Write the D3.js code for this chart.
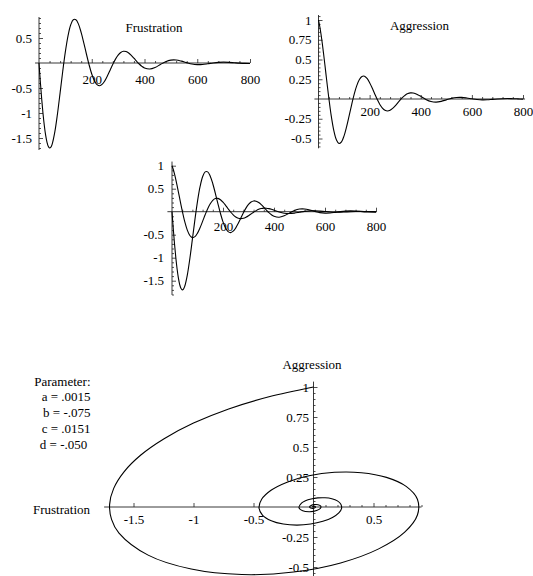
<!DOCTYPE html>
<meta charset="utf-8">
<style>
body { margin: 0; background: #fff; }
svg { display: block; }
text { font-family: "Liberation Serif", "Times New Roman", serif; font-size: 13px; fill: #000; }
</style>
<script src="https://d3js.org/d3.v7.min.js"></script>
<svg width="533" height="576"></svg>
<script>
// time grid and the two series
var times = [0,5,10,15,20,25,30,35,40,45,50,60,70,80,90,100,110,120,130,140,150,160,170,180,190,
  200,210,220,230,240,250,260,270,280,290,300,310,320,330,340,350,360,370,380,390,
  400,420,440,460,480,500,520,540,560,580,600,620,640,660,680,700,720,740,760,780,800];

var frustration = [0,-0.371,-0.707,-1.000,-1.245,-1.439,-1.579,-1.665,-1.699,-1.683,-1.621,-1.378,-1.019,-0.597,-0.166,
  0.226,0.543,0.760,0.866,0.866,0.772,0.608,0.399,0.175,-0.038,
  -0.220,-0.354,-0.432,-0.454,-0.424,-0.352,-0.252,-0.138,-0.024,0.078,
  0.158,0.211,0.234,0.228,0.199,0.153,0.096,0.036,-0.020,-0.067,
  -0.100,-0.121,-0.090,-0.031,0.026,0.058,0.060,0.038,0.007,-0.020,
  -0.032,-0.029,-0.015,0.001,0.013,0.017,0.013,0.005,-0.003,-0.008,-0.009];

var aggression = [1,0.918,0.817,0.699,0.569,0.433,0.293,0.155,0.022,-0.103,-0.217,-0.401,-0.517,-0.563,-0.542,
  -0.466,-0.349,-0.210,-0.067,0.065,0.172,0.247,0.286,0.289,0.260,
  0.207,0.139,0.064,-0.007,-0.069,-0.114,-0.142,-0.151,-0.142,-0.119,
  -0.087,-0.049,-0.011,0.023,0.051,0.069,0.077,0.076,0.067,0.052,
  0.033,-0.005,-0.032,-0.040,-0.030,-0.011,0.008,0.019,0.020,0.013,
  0.003,-0.006,-0.011,-0.010,-0.005,0.000,0.004,0.006,0.004,0.002,-0.001];

var timeTicks = [200,400,600,800];
var frustTicks = [-1.5,-1,-0.5,0.5];
var aggrTicks = [-0.5,-0.25,0.25,0.5,0.75,1];
var bothTicks = [-1.5,-1,-0.5,0.5,1];
var phaseFrustTicks = [-1.5,-1,-0.5,0.5];
var phaseAggrTicks = [-0.5,-0.25,0.25,0.5,0.75,1];
var paramLines = ["Parameter:", "a = .0015", "b = -.075", "c = .0151", "d = -.050\u00a0"];

var svg = d3.select("svg");
var curve = d3.curveCatmullRom.alpha(0.5);

function minors(lo, hi, step, majors) {
  return d3.range(Math.ceil(lo / step - 1e-9), Math.floor(hi / step + 1e-9) + 1)
    .map(function(i) { return +(i * step).toFixed(4); })
    .filter(function(v) { return v !== 0 && majors.indexOf(v) < 0; });
}

function styleAxis(g) {
  g.attr("font-family", null).attr("font-size", null);
  g.select(".domain").remove();
  g.selectAll("line").attr("stroke", "#222").attr("stroke-width", 0.8);
}

// x,y: scales; xr,yr: extent of the axis lines in data units
function axes(g, x, y, o) {
  g.append("line")
      .attr("x1", x(o.xr[0])).attr("x2", x(o.xr[1]))
      .attr("y1", y(0)).attr("y2", y(0))
      .attr("stroke", "#222").attr("stroke-width", 0.9);
  g.append("line")
      .attr("x1", x(0)).attr("x2", x(0))
      .attr("y1", y(o.yr[0])).attr("y2", y(o.yr[1]))
      .attr("stroke", "#222").attr("stroke-width", 0.9);

  g.append("g")
      .attr("transform", "translate(0," + y(0) + ")")
      .call(d3.axisBottom(x).tickValues(o.xTicks).tickSize(-4).tickPadding(o.xPad)
        .tickFormat(function(d) { return String(d); }))
      .call(styleAxis);
  g.append("g")
      .attr("transform", "translate(0," + y(0) + ")")
      .call(d3.axisBottom(x).tickValues(minors(0, o.xr[1], o.xMinor, o.xTicks)).tickSize(-2).tickFormat(""))
      .call(styleAxis);

  g.append("g")
      .attr("transform", "translate(" + x(0) + ",0)")
      .call(d3.axisLeft(y).tickValues(o.yTicks).tickSize(-4).tickPadding(o.yPad)
        .tickFormat(function(d) { return String(d); }))
      .call(styleAxis);
  g.append("g")
      .attr("transform", "translate(" + x(0) + ",0)")
      .call(d3.axisLeft(y).tickValues(minors(o.yr[1], o.yr[0], o.yMinor, o.yTicks)).tickSize(-2).tickFormat(""))
      .call(styleAxis);
}

function timePanel(o) {
  var g = svg.append("g");
  var x = d3.scaleLinear().domain([0, 800]).range(o.xRange);
  var y = d3.scaleLinear().domain([0, 1]).range([o.y0, o.y0 - o.k]);
  axes(g, x, y, o);
  o.series.forEach(function(s) {
    g.append("path")
        .datum(times.map(function(t, i) { return [t, s[i]]; }))
        .attr("fill", "none")
        .attr("stroke", "#000")
        .attr("stroke-width", 1.1)
        .attr("d", d3.line().x(function(d) { return x(d[0]); }).y(function(d) { return y(d[1]); }).curve(curve));
  });
  if (o.title) {
    g.append("text").attr("x", o.title[1]).attr("y", o.title[2])
        .attr("text-anchor", "middle").text(o.title[0]);
  }
}

timePanel({
  xRange: [39, 250], y0: 63, k: 50,
  xr: [-15, 800], yr: [0.92, -1.74],
  xTicks: timeTicks, yTicks: frustTicks, xMinor: 40, yMinor: 0.1,
  xPad: 12, yPad: 7,
  series: [frustration], title: ["Frustration", 154, 32]
});

timePanel({
  xRange: [318.5, 523], y0: 99, k: 79,
  xr: [-16, 808], yr: [1.063, -0.624],
  xTicks: timeTicks, yTicks: aggrTicks, xMinor: 40, yMinor: 0.05,
  xPad: 7.5, yPad: 7,
  series: [aggression], title: ["Aggression", 419.5, 30]
});

timePanel({
  xRange: [172, 376], y0: 211.7, k: 46,
  xr: [-18, 804], yr: [1.09, -1.81],
  xTicks: timeTicks, yTicks: bothTicks, xMinor: 40, yMinor: 0.1,
  xPad: 10, yPad: 8,
  series: [frustration, aggression]
});

// phase plot: Frustration (x) against Aggression (y)
(function() {
  var g = svg.append("g");
  var x = d3.scaleLinear().domain([0, 1]).range([313.5, 433.5]);
  var y = d3.scaleLinear().domain([0, 1]).range([507, 387]);
  axes(g, x, y, {
    xr: [-1.745, 0.9], yr: [1.045, -0.62],
    xTicks: phaseFrustTicks, yTicks: phaseAggrTicks, xMinor: 0.1, yMinor: 0.05,
    xPad: 7.5, yPad: 4.5
  });
  g.append("path")
      .datum(times.map(function(t, i) { return [frustration[i], aggression[i]]; }))
      .attr("fill", "none")
      .attr("stroke", "#000")
      .attr("stroke-width", 1.1)
      .attr("d", d3.line().x(function(d) { return x(d[0]); }).y(function(d) { return y(d[1]); }).curve(curve));

  g.append("text").attr("x", 312).attr("y", 369).attr("text-anchor", "middle").text("Aggression");
  g.append("text").attr("x", 90).attr("y", 514).attr("text-anchor", "end").text("Frustration");

  g.selectAll(".param")
    .data(paramLines)
    .enter().append("text")
      .attr("class", "param")
      .attr("x", 90.5)
      .attr("y", function(d, i) { return 385.5 + i * 15.8; })
      .attr("text-anchor", "end")
      .text(function(d) { return d; });
})();
</script>
